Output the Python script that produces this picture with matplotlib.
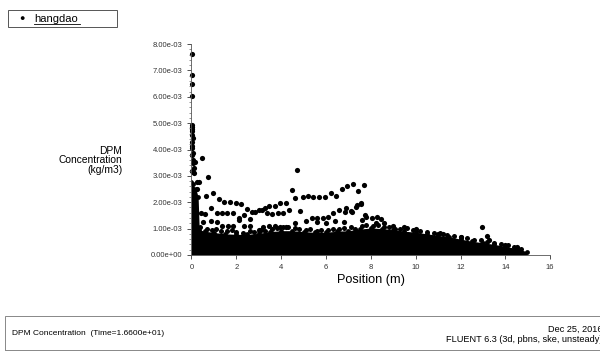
import numpy as np
import matplotlib
matplotlib.use("Agg")
import matplotlib.pyplot as plt
from matplotlib.ticker import AutoMinorLocator, FormatStrFormatter
from matplotlib.patches import Rectangle

plt.rcParams['font.family'] = ['Liberation Sans', 'DejaVu Sans']

# upper edge of the solid black cloud (position m, concentration 1e-3 kg/m3)
cloud_x = [0.0, 0.05, 0.2, 0.3, 0.35, 0.6, 1.0, 1.5, 2.0, 2.5, 3.0, 3.5, 4.0, 4.5, 5.0,
           5.5, 6.0, 6.5, 7.0, 7.5, 8.0, 8.5, 9.0, 9.5, 10.0, 10.5, 11.0, 11.5, 12.0,
           12.5, 13.0, 13.5, 14.0, 14.5, 14.97]
cloud_y = [2.75, 2.7, 2.5, 2.2, 0.95, 0.9, 0.85, 0.8, 0.78, 0.78, 0.82, 0.88, 0.92, 0.92, 0.88,
           0.86, 0.86, 0.9, 0.92, 0.98, 1.02, 1.0, 0.95, 0.9, 0.86, 0.8, 0.74, 0.68, 0.6,
           0.52, 0.46, 0.4, 0.32, 0.24, 0.12]

# ragged dotted top of the cloud
edge_x = [0.4, 0.7, 0.9, 1.1, 1.3, 1.6, 1.8, 2.0, 2.3, 2.6, 2.8, 3.1, 3.3, 3.6, 3.8, 4.1,
          4.3, 4.6, 4.8, 5.1, 5.3, 5.6, 5.8, 6.1, 6.3, 6.6, 6.8, 7.1, 7.3, 7.6, 7.8, 8.1,
          8.3, 8.6, 8.8, 9.1, 9.3, 9.6, 9.9, 10.2, 10.5, 10.8, 11.1, 11.4, 11.7, 12.0,
          12.3, 12.6, 12.9, 13.2, 13.5, 13.8, 14.1, 14.4, 14.7]
edge_y = [1.05, 1.0, 0.95, 0.98, 0.92, 0.9, 0.95, 0.88, 0.85, 0.9, 0.86, 0.95, 0.92, 1.0, 1.02,
          1.05, 1.04, 1.02, 0.98, 0.95, 0.98, 0.92, 0.96, 0.94, 1.0, 0.98, 1.02, 1.04, 1.0,
          1.08, 1.12, 1.1, 1.12, 1.06, 1.04, 1.0, 0.98, 1.02, 0.96, 0.92, 0.88, 0.84, 0.82,
          0.76, 0.72, 0.68, 0.64, 0.58, 0.55, 0.5, 0.46, 0.42, 0.36, 0.3, 0.24]

# separate particles above the cloud
pts_x = [0.02, 0.03, 0.02, 0.01, 0.02, 0.03, 0.04, 0.02, 0.03, 0.05, 0.02, 0.04, 0.03, 0.06,
         0.02, 0.05, 0.08, 0.1, 0.04, 0.12, 0.46, 0.16, 0.08, 0.23, 0.35, 0.25, 0.72, 0.63,
         0.97, 1.23, 1.46, 1.72, 1.97, 2.21, 2.46, 2.69, 2.83, 3.01, 3.13, 3.28, 3.47, 3.73,
         3.95, 4.22, 4.47, 4.70, 4.62, 4.96, 5.22, 5.44, 5.71, 5.96, 6.21, 6.45, 6.71, 6.96,
         7.19, 7.45, 7.70,
         0.41, 0.60, 0.87, 1.12, 1.35, 1.60, 1.87, 2.12, 2.36, 2.61, 3.36, 3.61, 3.85, 4.10,
         4.35, 4.84, 5.37, 5.59, 5.86, 6.11, 6.33, 6.60, 6.85, 7.11, 7.33, 7.57, 7.75, 8.04,
         0.53, 0.87, 1.12, 1.38, 1.62, 1.87, 2.12, 2.36, 2.61, 3.01, 3.21, 3.44, 3.73, 3.95,
         4.22, 4.62, 5.11, 5.6, 6.0, 6.4, 6.8,
         7.37, 7.55, 6.9, 7.15, 7.78, 8.27, 8.46, 7.6, 8.24, 8.6, 9.0, 9.5, 10.0, 11.0,
         11.2, 12.0, 12.96, 13.18, 13.25, 14.0, 14.5]
pts_y = [7.64, 6.82, 6.50, 6.03, 4.92, 4.85, 4.78, 4.70, 4.55, 4.43, 4.29, 4.15, 4.05, 3.86,
         3.79, 3.60, 3.50, 3.30, 3.20, 3.10, 3.69, 3.53, 3.16, 2.78, 2.75, 2.49, 2.97, 2.25,
         2.34, 2.12, 2.02, 2.00, 1.96, 1.93, 1.73, 1.64, 1.62, 1.70, 1.70, 1.77, 1.87, 1.87,
         1.96, 1.96, 2.46, 3.22, 2.15, 2.19, 2.25, 2.19, 2.19, 2.19, 2.34, 2.25, 2.50, 2.63,
         2.68, 2.42, 2.65,
         1.60, 1.55, 1.79, 1.60, 1.60, 1.60, 1.60, 1.41, 1.52, 1.35, 1.60, 1.55, 1.58, 1.60,
         1.70, 1.68, 1.41, 1.39, 1.41, 1.43, 1.58, 1.70, 1.64, 1.67, 1.83, 1.93, 1.52, 1.39,
         1.26, 1.30, 1.26, 1.10, 1.10, 1.11, 1.33, 1.10, 1.11, 0.95, 1.07, 1.11, 1.10, 1.07,
         1.07, 1.22, 1.30, 1.25, 1.20, 1.28, 1.25,
         1.89, 1.96, 1.77, 1.64, 1.45, 1.43, 1.35, 1.33, 1.20, 1.20, 1.10, 1.05, 1.00, 0.80,
         0.78, 0.68, 1.05, 0.72, 0.57, 0.38, 0.30]

x_ticks = [0, 2, 4, 6, 8, 10, 12, 14, 16]
y_ticks = [0, 1e-3, 2e-3, 3e-3, 4e-3, 5e-3, 6e-3, 7e-3, 8e-3]

fig = plt.figure(figsize=(6, 3.56), dpi=100)
ax = fig.add_axes([0.319, 0.284, 0.598, 0.592])

cx = np.array(cloud_x)
cy = np.array(cloud_y) * 1e-3
ax.fill_between(cx, 0, cy, color='black', lw=0)
ax.scatter(cx, cy, s=12, color='black', lw=0)
ax.scatter(edge_x, np.array(edge_y) * 1e-3, s=13, color='black', lw=0)
ax.scatter(pts_x, np.array(pts_y) * 1e-3, s=14, color='black', lw=0, clip_on=False)

ax.set_xlim(0, 16)
ax.set_ylim(0, 8e-3)
ax.set_xticks(x_ticks)
ax.set_yticks(y_ticks)
ax.yaxis.set_major_formatter(FormatStrFormatter('%.2e'))
ax.yaxis.set_minor_locator(AutoMinorLocator(5))
ax.tick_params(labelsize=5.5, colors='#333333', length=3, width=0.6)
ax.tick_params(which='minor', length=1.5, width=0.5, colors='#666666')
for s in ['top', 'right']:
    ax.spines[s].set_visible(False)
for s in ['left', 'bottom']:
    ax.spines[s].set_linewidth(0.6)
    ax.spines[s].set_color('#555555')

ax.set_xlabel('Position (m)', fontsize=9.2, labelpad=2)
fig.text(0.204, 0.55, 'DPM\nConcentration\n(kg/m3)', ha='right', va='center',
         fontsize=7.4, linespacing=0.95)

# legend box
fig.patches.append(Rectangle((0.013, 0.924), 0.182, 0.048, transform=fig.transFigure,
                             fill=False, lw=0.7, ec='#555555'))
fig.text(0.037, 0.948, '\u25cf', fontsize=6.5, ha='center', va='center')
fig.text(0.057, 0.948, 'hangdao', fontsize=8, ha='left', va='center')
fig.lines.append(plt.Line2D([0.057, 0.133], [0.932, 0.932], transform=fig.transFigure,
                            lw=0.6, color='black'))

# footer box
fig.patches.append(Rectangle((0.008, 0.017), 1.0, 0.094, transform=fig.transFigure,
                             fill=False, lw=0.7, ec='#888888'))
fig.text(0.02, 0.064, 'DPM Concentration  (Time=1.6600e+01)', fontsize=6, va='center')
fig.text(1.004, 0.075, 'Dec 25, 2016', fontsize=6.6, ha='right', va='center')
fig.text(1.004, 0.046, 'FLUENT 6.3 (3d, pbns, ske, unsteady)', fontsize=6.6, ha='right', va='center')

fig.savefig('out.png', dpi=100)
